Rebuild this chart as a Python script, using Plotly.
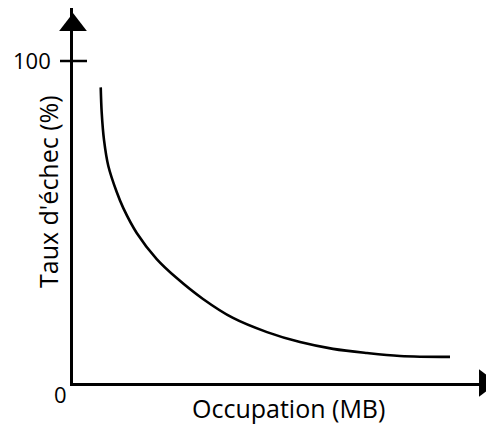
import plotly.graph_objects as go

# Data
occupation = [6.93, 7.18, 7.75, 8.83, 10.93, 12.58, 15.93, 20.93, 25.93, 32.5, 40.0, 48.5, 56.75, 65.0, 73.5, 81.75, 94.25]
taux_echec = [91.8, 83.9, 75.5, 67.4, 59.3, 54.3, 46.6, 38.5, 32.6, 26.1, 20.2, 15.8, 12.7, 10.6, 9.3, 8.4, 8.1]
y_tick_values = [0, 100]
y_tick_labels = ["0", "100"]
x_title = "Occupation (MB)"
y_title = "Taux d'échec (%)"

OFF = 8  # page body margin offsets the figure by 8 px
W, H = 494 - OFF, 425 - OFF
ML, MT = 73 - OFF, 8 - OFF
X_AXIS_PX = 383 - OFF
PW = W - ML
PH = X_AXIS_PX - MT
MB = H - X_AXIS_PX
X_SCALE, Y_SCALE = 4.0, 3.22  # px per data unit
X_RANGE = [0, PW / X_SCALE]
Y_RANGE = [0, PH / Y_SCALE]

FONT = "Open Sans"

def px_x(dx):
    return dx / PW

def px_y(dy):
    return dy / PH

fig = go.Figure()
fig.add_trace(go.Scatter(
    x=occupation, y=taux_echec, mode="lines",
    line=dict(color="black", width=2.6, shape="spline", smoothing=1.0),
    showlegend=False, hoverinfo="skip", cliponaxis=False,
))

# arrow heads at the end of each axis (filled triangle markers)
HEAD = 24
r = HEAD / 2
tip_offset = r * 2 ** 0.5
x_tip = (502 - 73) / X_SCALE
fig.add_trace(go.Scatter(
    x=[0], y=[Y_RANGE[1] - tip_offset / Y_SCALE], mode="markers",
    marker=dict(symbol="triangle-up", size=HEAD, color="black", line=dict(width=0)),
    showlegend=False, hoverinfo="skip", cliponaxis=False,
))
fig.add_trace(go.Scatter(
    x=[x_tip - tip_offset / X_SCALE], y=[0], mode="markers",
    marker=dict(symbol="triangle-right", size=HEAD, color="black", line=dict(width=0)),
    showlegend=False, hoverinfo="skip", cliponaxis=False,
))

shapes = [dict(
    type="line", xref="paper", yref="y", layer="above",
    x0=px_x(-13), x1=px_x(14), y0=y_tick_values[1], y1=y_tick_values[1],
    line=dict(color="black", width=2.5),
)]

annotations = [
    dict(x=px_x(-20), y=y_tick_values[1], xref="paper", yref="y", yshift=1,
         text=y_tick_labels[1], showarrow=False, xanchor="right", yanchor="middle",
         font=dict(family=FONT, size=22, color="black")),
    dict(x=px_x(-13), y=y_tick_values[0], xref="paper", yref="y", yshift=-11,
         text=y_tick_labels[0], showarrow=False, xanchor="center", yanchor="middle",
         font=dict(family=FONT, size=22, color="black")),
    dict(x=px_x(288 - 73), y=px_y(383 - 408), xref="paper", yref="paper",
         text=x_title, showarrow=False, xanchor="center", yanchor="middle",
         font=dict(family=FONT, size=25, color="black")),
    dict(x=px_x(48 - 73), y=px_y(383 - 192), xref="paper", yref="paper",
         text=y_title, showarrow=False, xanchor="center", yanchor="middle", textangle=-90,
         font=dict(family=FONT, size=25, color="black")),
]

fig.update_layout(
    width=W, height=H,
    margin=dict(l=ML, r=0, t=MT, b=MB, pad=0, autoexpand=False),
    paper_bgcolor="white", plot_bgcolor="white",
    font=dict(family=FONT, size=20, color="black"),
    shapes=shapes, annotations=annotations,
    xaxis=dict(range=X_RANGE, showgrid=False, zeroline=False, showticklabels=False,
               ticks="", showline=True, linecolor="black", linewidth=2.5, automargin=False),
    yaxis=dict(range=Y_RANGE, showgrid=False, zeroline=False, showticklabels=False,
               ticks="", showline=True, linecolor="black", linewidth=2.5, automargin=False),
)

fig.write_html("out.html")
